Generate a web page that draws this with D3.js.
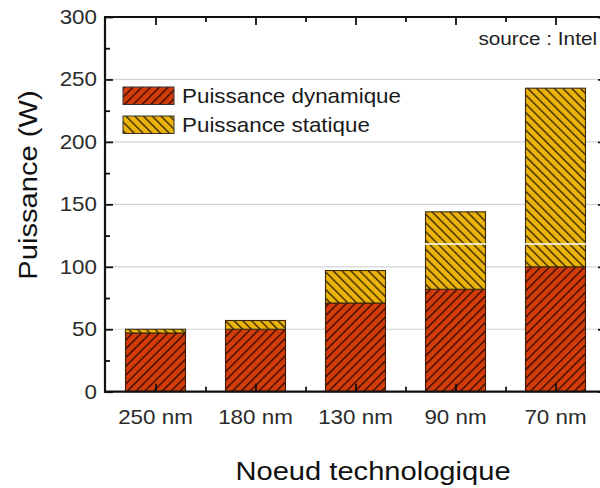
<!DOCTYPE html>
<html>
<head>
<meta charset="utf-8">
<script src="https://cdn.jsdelivr.net/npm/d3@7"></script>
<style>
  html, body { margin: 0; padding: 0; background: #fff; }
  svg { display: block; font-family: "Liberation Sans", Arial, sans-serif; }
</style>
</head>
<body>
<svg id="chart" width="600" height="488"></svg>
<script>
(function () {
// ---- data ----
const categories = ["250 nm", "180 nm", "130 nm", "90 nm", "70 nm"];
const dynamicPower = [47, 50, 71, 82, 100];
const staticPower = [3, 7, 26, 62, 143];
const yTicks = [0, 50, 100, 150, 200, 250, 300];
const seriesNames = ["Puissance dynamique", "Puissance statique"];

// ---- layout ----
const svg = d3.select("#chart");
const pL = 105, pR = 601, pT = 17, pB = 391.7;
const SX = 1.12; // horizontal glyph stretch

const x = d3.scaleBand().domain(categories).range([pL + 0.5, pL + 500.5])
  .paddingInner(0.4).paddingOuter(0.2);
const y = d3.scaleLinear().domain([0, 300]).range([pB, pT]);

// patterns
const defs = svg.append("defs");
function hatch(id, fill, stroke, angle) {
  const s = 6.2;
  const p = defs.append("pattern").attr("id", id)
    .attr("patternUnits", "userSpaceOnUse")
    .attr("width", s).attr("height", s)
    .attr("patternTransform", `rotate(${angle})`);
  p.append("rect").attr("width", s).attr("height", s).attr("fill", fill);
  p.append("line").attr("x1", 0.7).attr("y1", 0).attr("x2", 0.7).attr("y2", s)
    .attr("stroke", stroke).attr("stroke-width", 1.4);
}
hatch("hRed", "#d23c0a", "#3a0c00", 45);
hatch("hYel", "#ebb40a", "#3a2800", -45);

// gridlines
svg.append("g").selectAll("line").data(yTicks.filter(d => d > 0 && d < 300)).join("line")
  .attr("x1", pL).attr("x2", pR - 3)
  .attr("y1", d => y(d)).attr("y2", d => y(d))
  .attr("stroke", "#d4d4d4").attr("stroke-width", 1.2);

// bars
const stacked = categories.map((c, i) => ({ c, d: dynamicPower[i], s: staticPower[i] }));
const bars = svg.append("g");
bars.selectAll("rect.dyn").data(stacked).join("rect").attr("class", "dyn")
  .attr("x", d => x(d.c)).attr("width", x.bandwidth())
  .attr("y", d => y(d.d)).attr("height", d => y(0) - y(d.d))
  .attr("fill", "url(#hRed)").attr("stroke", "#3a1a10").attr("stroke-width", 1.1);
bars.selectAll("rect.sta").data(stacked).join("rect").attr("class", "sta")
  .attr("x", d => x(d.c)).attr("width", x.bandwidth())
  .attr("y", d => y(d.d + d.s)).attr("height", d => y(d.d) - y(d.d + d.s))
  .attr("fill", "url(#hYel)").attr("stroke", "#3a2a10").attr("stroke-width", 1.1);

// scan artifact line
svg.append("line").attr("x1", 98).attr("x2", 600).attr("y1", 244).attr("y2", 244)
  .attr("stroke", "#fff").attr("stroke-width", 1.5);

// axes
const yMinor = d3.range(25, 300, 50);
svg.append("g").attr("transform", `translate(${pL},0)`)
  .call(d3.axisLeft(y).tickValues(yTicks).tickSize(-8).tickFormat(""));
svg.append("g").attr("transform", `translate(${pL},0)`)
  .call(d3.axisLeft(y).tickValues(yMinor).tickSize(-5).tickFormat(""));
svg.append("g").attr("transform", `translate(${pR},0)`)
  .call(d3.axisRight(y).tickValues(yTicks).tickSize(-3).tickFormat(""));

const centers = categories.map(c => x(c) + x.bandwidth() / 2);
const mids = centers.map(c => c - x.step() / 2).concat([centers[4] + x.step() / 2]).filter(v => v > pL + 2 && v < pR - 2);
const xLin = d3.scaleLinear().domain([0, 600]).range([0, 600]);
svg.append("g").attr("transform", `translate(0,${pB})`)
  .call(d3.axisBottom(xLin).tickValues(centers).tickSize(-8).tickFormat(""));
svg.append("g").attr("transform", `translate(0,${pB})`)
  .call(d3.axisBottom(xLin).tickValues(mids).tickSize(-5).tickFormat(""));
svg.append("g").attr("transform", `translate(0,${pT})`)
  .call(d3.axisTop(xLin).tickValues(centers).tickSize(-8).tickFormat(""));
svg.append("g").attr("transform", `translate(0,${pT})`)
  .call(d3.axisTop(xLin).tickValues(mids).tickSize(-5).tickFormat(""));
svg.selectAll(".domain").remove();
svg.selectAll(".tick line").attr("stroke", "#111").attr("stroke-width", 1.8);

// frame
const fr = svg.append("g").attr("stroke", "#111").attr("stroke-width", 2.2).attr("fill", "none");
fr.append("line").attr("x1", pL).attr("x2", pL).attr("y1", pT).attr("y2", pB + 1);
fr.append("line").attr("x1", pL - 1).attr("x2", 600).attr("y1", pB).attr("y2", pB);
fr.append("line").attr("x1", pL - 1).attr("x2", 600).attr("y1", pT).attr("y2", pT);
fr.append("line").attr("x1", pR + 1).attr("x2", pR + 1).attr("y1", pT).attr("y2", pB);

// text helper
function txt(str, tx, ty, size, anchor, color, rot) {
  return svg.append("text")
    .attr("transform", `translate(${tx},${ty})` + (rot ? ` rotate(${rot})` : "") + ` scale(${SX},1)`)
    .attr("text-anchor", anchor).attr("font-size", size).attr("fill", color).text(str);
}

// y tick labels
yTicks.forEach(t => txt(String(t), 97, y(t) + 7, 20, "end", "#2b2b2b"));
// x tick labels
categories.forEach(c => txt(c, x(c) + x.bandwidth() / 2, 424, 20, "middle", "#2b2b2b"));

// axis titles
txt("Noeud technologique", 373, 480, 26, "middle", "#111");
txt("Puissance (W)", 37, 185, 26, "middle", "#111", -90);

// source
txt("source : Intel", 597, 45, 18.5, "end", "#222");

// legend
const leg = svg.append("g");
[["url(#hRed)", 87], ["url(#hYel)", 116]].forEach(([f, yy], i) => {
  leg.append("rect").attr("x", 123).attr("y", yy).attr("width", 51).attr("height", 17.5)
    .attr("fill", f).attr("stroke", "#333").attr("stroke-width", 1);
  txt(seriesNames[i], 182, yy + 16, 20, "start", "#1a1a1a");
});
})();
</script>
</body>
</html>
